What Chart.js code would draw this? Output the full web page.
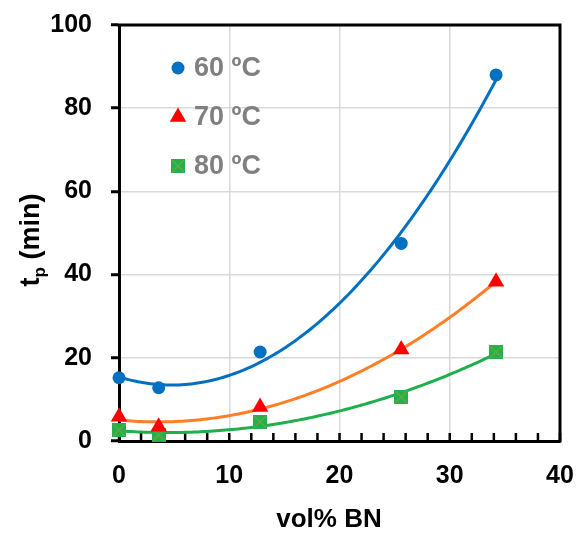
<!DOCTYPE html>
<html>
<head>
<meta charset="utf-8">
<script src="https://cdn.jsdelivr.net/npm/chart.js@4"></script>
<style>
    html, body { margin: 0; padding: 0; background: #fff; }
    #wrap { width: 578px; height: 533px; }
</style>
</head>
<body>
<div id="wrap"><canvas id="tpChart"></canvas></div>
<script>
// values
const volBN = [0, 3.6, 12.8, 25.6, 34.2];
const tp60 = [15.2, 12.8, 21.4, 47.5, 88.0];
const tp70 = [5.8, 3.4, 8.2, 22.0, 38.3];
const tp80 = [2.6, 1.4, 4.6, 10.6, 21.4];
const seriesLabels = ['60 ºC', '70 ºC', '80 ºC'];
const xTicks = [0, 10, 20, 30, 40];
const yTicks = [0, 20, 40, 60, 80, 100];

const FONT = '"Liberation Sans", Arial, sans-serif';

function crossSquare() {
    const c = document.createElement('canvas');
    c.width = 14;
    c.height = 14;
    const g = c.getContext('2d');
    g.fillStyle = '#22B14C';
    g.fillRect(0, 0, 14, 14);
    g.strokeStyle = '#6BA83E';
    g.lineWidth = 1.3;
    g.beginPath();
    g.moveTo(1, 1); g.lineTo(13, 13);
    g.moveTo(13, 1); g.lineTo(1, 13);
    g.stroke();
    return c;
}

function toPoints(xs, ys) {
    return xs.map((x, i) => ({ x: x, y: ys[i] }));
}

// 2nd order least squares, like the spreadsheet trendline
function quadFit(xs, ys) {
    const s = [0, 0, 0, 0, 0], t = [0, 0, 0];
    for (let i = 0; i < xs.length; i++) {
        let p = 1;
        for (let k = 0; k < 5; k++) {
            s[k] += p;
            if (k < 3) t[k] += p * ys[i];
            p *= xs[i];
        }
    }
    const m = [[s[0], s[1], s[2], t[0]], [s[1], s[2], s[3], t[1]], [s[2], s[3], s[4], t[2]]];
    for (let i = 0; i < 3; i++) {
        for (let j = i + 1; j < 3; j++) {
            const f = m[j][i] / m[i][i];
            for (let k = i; k < 4; k++) m[j][k] -= f * m[i][k];
        }
    }
    const c = [0, 0, 0];
    for (let i = 2; i >= 0; i--) {
        let v = m[i][3];
        for (let k = i + 1; k < 3; k++) v -= m[i][k] * c[k];
        c[i] = v / m[i][i];
    }
    return c;
}

const greenMarker = crossSquare();
const markerStyles = ['circle', 'triangle', greenMarker];
const markerColors = ['#0070C0', '#FF0000', '#22B14C'];
const markerRadius = [6.5, 9.5, 7];
const trendColors = ['#0070C0', '#FF7F27', '#1DB04B'];

const framePlugin = {
    id: 'frame',
    beforeDatasetsDraw(chart) {
        const ctx = chart.ctx;
        const a = chart.chartArea;
        const xs = chart.scales.x, ys = chart.scales.y;
        ctx.save();
        // top and right frame
        ctx.strokeStyle = '#000';
        ctx.lineWidth = 3;
        ctx.beginPath();
        ctx.moveTo(a.left - 1.5, a.top);
        ctx.lineTo(a.right, a.top);
        ctx.lineTo(a.right, a.bottom + 1.5);
        ctx.stroke();
        // inner ticks on the x axis
        ctx.lineWidth = 2.5;
        ctx.beginPath();
        for (let v = 0; v <= 40; v += 2) {
            const px = xs.getPixelForValue(v);
            ctx.moveTo(px, a.bottom);
            ctx.lineTo(px, a.bottom - 8);
        }
        ctx.stroke();
        // trendlines
        chart.data.datasets.forEach((ds, i) => {
            const xv = ds.data.map(p => p.x), yv = ds.data.map(p => p.y);
            const c = quadFit(xv, yv);
            const x0 = Math.min(...xv), x1 = Math.max(...xv);
            ctx.strokeStyle = trendColors[i];
            ctx.lineWidth = 3;
            ctx.lineJoin = 'round';
            ctx.beginPath();
            for (let k = 0; k <= 120; k++) {
                const x = x0 + (x1 - x0) * k / 120;
                const y = c[0] + c[1] * x + c[2] * x * x;
                const px = xs.getPixelForValue(x), py = ys.getPixelForValue(y);
                if (k === 0) ctx.moveTo(px, py); else ctx.lineTo(px, py);
            }
            ctx.stroke();
        });
        ctx.restore();
    },
    afterDraw(chart) {
        const ctx = chart.ctx;
        ctx.save();
        // y title with subscript
        ctx.fillStyle = '#000';
        ctx.textBaseline = 'alphabetic';
        const big = 'bold 27px ' + FONT, small = 'bold 17px ' + FONT;
        ctx.font = big;
        const wT = ctx.measureText('t').width;
        const wRest = ctx.measureText(' (min)').width;
        ctx.font = small;
        const wP = ctx.measureText('p').width;
        const total = wT + wP + wRest;
        ctx.translate(39, 240);
        ctx.rotate(-Math.PI / 2);
        let x = -total / 2;
        ctx.font = big;
        ctx.fillText('t', x, 0);
        x += wT;
        ctx.font = small;
        ctx.fillText('p', x, 6);
        x += wP;
        ctx.font = big;
        ctx.fillText(' (min)', x, 0);
        ctx.setTransform(1, 0, 0, 1, 0, 0);
        // x title
        ctx.font = 'bold 26px ' + FONT;
        ctx.textAlign = 'center';
        ctx.textBaseline = 'middle';
        ctx.fillText('vol% BN', 329, 520);
        // legend inside the plot
        const rows = [68, 117, 166];
        ctx.textAlign = 'left';
        ctx.font = 'bold 27px ' + FONT;
        rows.forEach((ry, i) => {
            ctx.fillStyle = markerColors[i];
            Chart.helpers.drawPoint(ctx, {
                pointStyle: markerStyles[i],
                radius: markerRadius[i],
                rotation: 0,
                borderWidth: 0
            }, 178, ry);
            ctx.fillStyle = '#808080';
            ctx.fillText(seriesLabels[i], 194, ry + 1);
        });
        ctx.restore();
    }
};

function makeDataset(label, ys, i) {
    return {
        label: label,
        data: toPoints(volBN, ys),
        showLine: false,
        pointStyle: markerStyles[i],
        pointRadius: markerRadius[i],
        pointBackgroundColor: markerColors[i],
        pointBorderColor: markerColors[i],
        pointBorderWidth: 0,
        clip: false
    };
}

new Chart(document.getElementById('tpChart'), {
    type: 'scatter',
    data: {
        datasets: [
            makeDataset(seriesLabels[0], tp60, 0),
            makeDataset(seriesLabels[1], tp70, 1),
            makeDataset(seriesLabels[2], tp80, 2)
        ]
    },
    options: {
        responsive: true,
        maintainAspectRatio: false,
        devicePixelRatio: 1,
        animation: false,
        layout: { padding: { top: 25, right: 18, bottom: 0, left: 0 } },
        plugins: {
            legend: { display: false },
            tooltip: { enabled: false }
        },
        scales: {
            x: {
                type: 'linear',
                min: xTicks[0],
                max: xTicks[xTicks.length - 1],
                afterBuildTicks: (s) => { s.ticks = xTicks.map(v => ({ value: v })); },
                afterFit: (s) => {
                    s.height = 92;
                    s.paddingLeft = 0;
                    s.paddingRight = 0;
                },
                ticks: {
                    color: '#000',
                    padding: 20,
                    font: { family: FONT, size: 25, weight: 'bold' }
                },
                grid: { color: '#D9D9D9', lineWidth: 1.5, drawTicks: false },
                border: { color: '#000', width: 3 }
            },
            y: {
                type: 'linear',
                min: yTicks[0],
                max: yTicks[yTicks.length - 1],
                afterBuildTicks: (s) => { s.ticks = yTicks.map(v => ({ value: v })); },
                afterFit: (s) => {
                    s.width = 119;
                    s.paddingTop = 0;
                    s.paddingBottom = 0;
                },
                ticks: {
                    color: '#000',
                    padding: 19,
                    font: { family: FONT, size: 25, weight: 'bold' }
                },
                grid: { color: '#D9D9D9', lineWidth: 1.5, tickColor: '#000', tickLength: 8, tickWidth: 3 },
                border: { color: '#000', width: 3 }
            }
        }
    },
    plugins: [framePlugin]
});
</script>
</body>
</html>
